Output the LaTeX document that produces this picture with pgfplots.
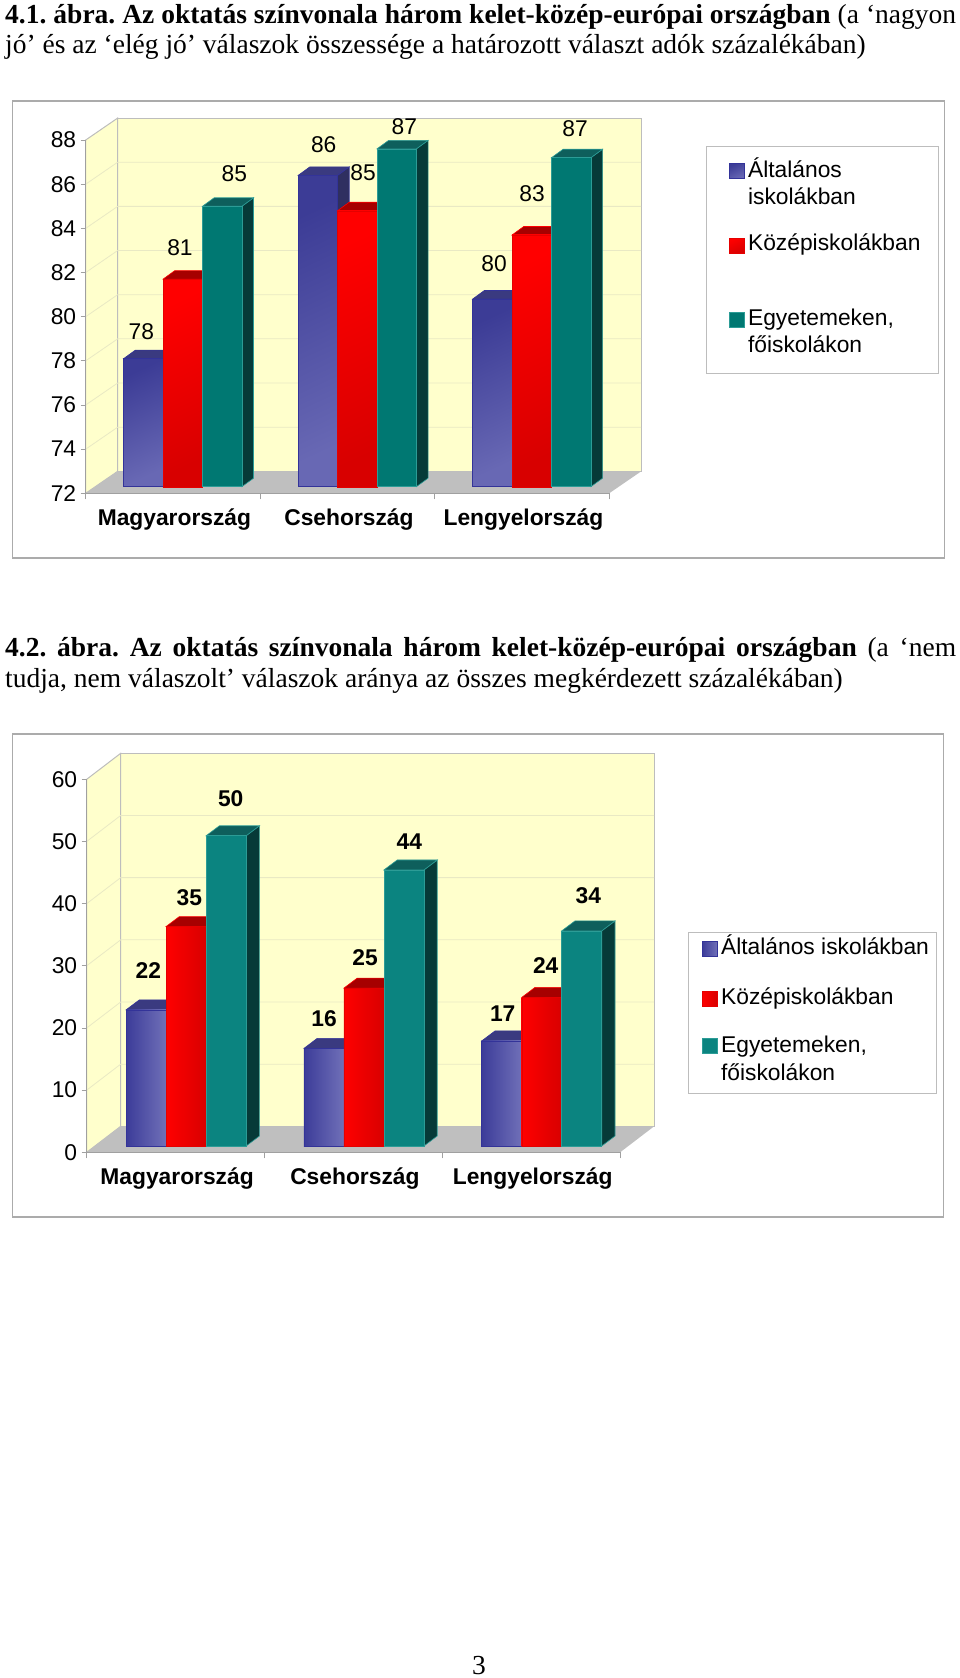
\documentclass[border=0pt]{standalone}
\usepackage{fontspec}
\usepackage{pgfplots}
\usepackage{pgfplotstable}
\pgfplotsset{compat=1.18}
\setmainfont{Liberation Sans}
\newfontfamily\timesf{Liberation Serif}
\frenchspacing

\definecolor{wallc}{HTML}{FFFFCC}
\definecolor{wallgrid}{HTML}{E9E9C4}
\definecolor{wallline}{HTML}{BDBDBD}
\definecolor{floorc}{HTML}{BFBFBF}
\definecolor{axisc}{HTML}{A0A0A0}
\definecolor{framec}{HTML}{ABABAB}
\definecolor{bluetop}{HTML}{3A3A80}
\definecolor{blueside}{HTML}{2F2F60}
\definecolor{blueedge}{HTML}{333399}
\definecolor{redtop}{HTML}{A60000}
\definecolor{redside}{HTML}{900000}
\definecolor{tealtop}{HTML}{0E5F5C}
\definecolor{tealside}{HTML}{063A38}
\definecolor{tealedge}{HTML}{2C9C96}
\definecolor{blueA}{HTML}{3C3C96}
\definecolor{blueB}{HTML}{6868B4}
\definecolor{blueC}{HTML}{3C3C99}
\definecolor{blueD}{HTML}{7070B8}
\definecolor{redA}{HTML}{FF0000}
\definecolor{redB}{HTML}{D80000}
\definecolor{tealA}{HTML}{007872}
\definecolor{tealB}{HTML}{0B8480}

\newcommand{\lf}{\fontsize{22.8}{27.5}\selectfont}
\newcommand{\titlef}{\timesf\fontsize{27.5}{31}\selectfont}

% front face styles
\tikzset{
  fblueone/.style={draw=blueedge,line width=0.6pt,bottom color=blueB,top color=blueA,shading angle=25},
  fredone/.style={draw=red!90!black,line width=0.4pt,bottom color=redB,top color=redA,shading angle=25},
  ftealone/.style={draw=tealedge,line width=0.6pt,fill=tealA},
  fbluetwo/.style={draw=blueedge,line width=0.6pt,left color=blueC,right color=blueD},
  fredtwo/.style={draw=red!90!black,line width=0.4pt,left color=redA,right color=redB},
  ftealtwo/.style={draw=tealedge,line width=0.6pt,fill=tealB},
}

% chart 1: the values are read from bar heights, the labels show them rounded
\pgfplotstableread{
x a b c
0 77.8 81.4 84.7
1 86.1 84.5 87.3
2 80.5 83.4 86.9
}\tabA
\pgfplotstableread{
x a b c
0 21.9 35.3 49.9
1 15.7 25.4 44.4
2 16.9 23.9 34.6
}\tabB

% wall, floor and grid of the 3D look: #1 ymin #2 ymax #3 y steps #4 wall dx #5 wall dy
\newcommand{\walls}[5]{%
  \pgfmathsetmacro\xl{-0.5+#4}\pgfmathsetmacro\xr{2.5+#4}%
  \pgfmathsetmacro\yb{#1+#5}\pgfmathsetmacro\yt{#2+#5}%
  \edef\cmd{\noexpand\addplot[fill=wallc,draw=wallline,line width=1pt,forget plot] coordinates {(\xl,\yb)(\xr,\yb)(\xr,\yt)(\xl,\yt)} --cycle;}\cmd
  \edef\cmd{\noexpand\addplot[fill=wallc,draw=wallline,line width=1pt,forget plot] coordinates {(-0.5,#1)(\xl,\yb)(\xl,\yt)(-0.5,#2)} --cycle;}\cmd
  \pgfplotsforeachungrouped \t in {#3}{%
    \pgfmathsetmacro\tb{\t+#5}%
    \edef\cmd{\noexpand\addplot[draw=wallgrid,line width=0.8pt,forget plot] coordinates {(-0.5,\t)(\xl,\tb)(\xr,\tb)};}\cmd
  }%
  \edef\cmd{\noexpand\addplot[fill=floorc,draw=none,forget plot] coordinates {(-0.5,#1)(2.5,#1)(\xr,\yb)(\xl,\yb)} --cycle;}\cmd
}

% one series, bar by bar: #1 table #2 column #3 bar index #4 top #5 side #6 edge #7 front style
\newcommand{\series}[7]{%
  \pgfplotsforeachungrouped \r in {0,1,2}{%
    \pgfplotstablegetelem{\r}{#2}\of{#1}\let\v\pgfplotsretval
    \pgfmathsetmacro\xa{\r+(#3-0.5)*\bw}\pgfmathsetmacro\xb{\xa+\bw}%
    \pgfmathsetmacro\xc{\xa+\bdx}\pgfmathsetmacro\xd{\xb+\bdx}%
    \pgfmathsetmacro\vt{\v+\bdy}\pgfmathsetmacro\yo{\ybase+\bdy}%
    \pgfmathsetmacro\bs{#3*\bwpt}%
    \edef\cmd{\noexpand\addplot[fill=#5,draw=#6,line width=0.6pt,forget plot] coordinates {(\xb,\ybase)(\xd,\yo)(\xd,\vt)(\xb,\v)} --cycle;}\cmd
    \edef\cmd{\noexpand\addplot[fill=#4,draw=#6,line width=0.6pt,forget plot] coordinates {(\xa,\v)(\xb,\v)(\xd,\vt)(\xc,\vt)} --cycle;}\cmd
    \edef\cmd{\noexpand\addplot[ybar,bar width=\bwpt pt,bar shift=\bs pt,#7,forget plot] coordinates {(\r,\v)};}\cmd
  }%
}

\newcommand{\lentry}[4]{\hspace*{3.6pt}\parbox[t][#2pt][t]{#1pt}{\raggedright\rule{0pt}{#3pt}#4}}
\newcommand{\lab}[3]{\node[inner sep=0pt,font=\lf] at (#1pt,-#2pt) {#3};}
\newcommand{\labb}[3]{\node[inner sep=0pt,font=\lf\bfseries] at (#1pt,-#2pt) {#3};}

\pgfplotsset{
  frameaxis/.style={
    clip=false, axis on top=true, enlargelimits=false,
    axis lines=left, axis line style={draw=axisc,line width=1pt,-},
    xmin=-0.5, xmax=2.5,
    xtick={0,1,2}, xticklabels={Magyarország,Csehország,Lengyelország},
    minor xtick={-0.5,0.5,1.5,2.5},
    major x tick style={draw=none}, minor x tick style={draw=axisc,line width=0.8pt},
    y tick style={draw=axisc,line width=0.8pt},
    tick align=outside, major tick length=5pt, minor tick length=6pt,
    /pgf/number format/assume math mode=true,
    yticklabel style={font=\lf, xshift=-1pt},
    xticklabel style={font=\lf\bfseries, anchor=base, xshift=1.5pt, yshift=-27pt},
  },
  baraxis/.style={
    hide axis, clip=false, enlargelimits=false, xmin=-0.5, xmax=2.5,
    legend cell align=left,
  },
  limg/.style n args={3}{legend image code/.code={
    \path[draw=none] (-#1pt,0) -- (0,0);
    \draw[#2,yshift=#3pt] (0pt,-2.5pt) rectangle (15pt,12.5pt);
  }},
}

\begin{document}
\begin{tikzpicture}[x=1pt,y=1pt]
\path[use as bounding box] (0,0) rectangle (960pt,-1678pt);

% titles
\node[anchor=base west,inner sep=0pt,font=\titlef] at (5pt,-23.5pt)
  {\makebox[951pt][s]{\textbf{4.1. ábra. Az oktatás színvonala három kelet-közép-európai országban} (a ‘nagyon}};
\node[anchor=base west,inner sep=0pt,font=\titlef] at (5pt,-54pt)
  {jó’ és az ‘elég jó’ válaszok összessége a határozott választ adók százalékában)};
\node[anchor=base west,inner sep=0pt,font=\titlef] at (5pt,-656.7pt)
  {\makebox[951pt][s]{\textbf{4.2. ábra. Az oktatás színvonala három kelet-közép-európai országban} (a ‘nem}};
\node[anchor=base west,inner sep=0pt,font=\titlef] at (5pt,-687.7pt)
  {tudja, nem válaszolt’ válaszok aránya az összes megkérdezett százalékában)};
\node[inner sep=0pt,font=\titlef] at (479pt,-1666pt) {3};

% chart frames
\draw[framec,line width=1.2pt] (12.7pt,-101pt) rectangle (944.3pt,-558pt);
\draw[framec,line width=1.2pt] (12.7pt,-734pt) rectangle (943.3pt,-1217pt);

% ---- chart 1
\begin{axis}[frameaxis, at={(85.7pt,-493.3pt)}, anchor=south west,
    x=174.5pt, y=22.08pt, ymin=72, ymax=88, ytick={72,74,...,88}]
  \walls{72}{88}{74,76,78,80,82,84,86}{0.1834}{0.996}
\end{axis}

\begin{axis}[baraxis, at={(95.5pt,-486.7pt)}, anchor=south west,
    x=174.5pt, y=22.08pt, ymin=72, ymax=88,
    legend style={at={(1.1656,0.9643)},anchor=north west,draw=wallline,line width=1pt,
      inner sep=0pt,row sep=0pt,font=\lf,nodes={inner sep=0pt,text depth=}}]
  \def\bw{0.2258}\def\bwpt{39.4}\def\bdx{0.067}\def\bdy{0.385}\def\ybase{72}
  \series{\tabA}{a}{-1}{bluetop}{blueside}{blueedge}{fblueone}
  \series{\tabA}{b}{0}{redtop}{redside}{red}{fredone}
  \series{\tabA}{c}{1}{tealtop}{tealside}{tealedge}{ftealone}
  \addlegendimage{limg={23}{fblueone}{7}}
  \addlegendentry{\lentry{190}{73}{30.7}{Általános\\iskolákban}}
  \addlegendimage{limg={23}{fredone}{6.5}}
  \addlegendentry{\lentry{190}{75}{30.7}{Középiskolákban}}
  \addlegendimage{limg={23}{ftealone}{9}}
  \addlegendentry{\lentry{190}{79}{30.7}{Egyetemeken,\\főiskolákon}}
\end{axis}
\lab{141.3}{331.7}{78}\lab{180}{247.3}{81}\lab{234.3}{173.3}{85}
\lab{323.7}{144.7}{86}\lab{363}{172.7}{85}\lab{404.3}{127}{87}
\lab{494}{263.3}{80}\lab{532}{194}{83}\lab{575}{129}{87}

% ---- chart 2
\begin{axis}[frameaxis, at={(86.7pt,-1152.3pt)}, anchor=south west,
    x=177.8pt, y=6.217pt, ymin=0, ymax=60, ytick={0,10,...,60}]
  \walls{0}{60}{10,20,30,40,50}{0.1912}{4.18}
\end{axis}

\begin{axis}[baraxis, at={(97.2pt,-1146pt)}, anchor=south west,
    x=177.8pt, y=6.217pt, ymin=0, ymax=60,
    legend style={at={(1.1082,0.5729)},anchor=north west,draw=wallline,line width=1pt,
      inner sep=0pt,row sep=0pt,font=\lf,nodes={inner sep=0pt,text depth=}}]
  \def\bw{0.225}\def\bwpt{40}\def\bdx{0.0748}\def\bdy{1.608}\def\ybase{0}
  \series{\tabB}{a}{-1}{bluetop}{blueside}{blueedge}{fbluetwo}
  \series{\tabB}{b}{0}{redtop}{redside}{red}{fredtwo}
  \series{\tabB}{c}{1}{tealtop}{tealside}{tealedge}{ftealtwo}
  \addlegendimage{limg={13.4}{fbluetwo}{3.7}}
  \addlegendentry{\lentry{215}{50}{22}{Általános iskolákban}}
  \addlegendimage{limg={13.4}{fredtwo}{3.2}}
  \addlegendentry{\lentry{215}{48}{22}{Középiskolákban}}
  \addlegendimage{limg={13.4}{ftealtwo}{11.8}}
  \addlegendentry{\lentry{215}{63}{22}{Egyetemeken,\\főiskolákon}}
\end{axis}
\labb{148.3}{970.7}{22}\labb{189.3}{897.7}{35}\labb{230.7}{798.7}{50}
\labb{324}{1018.3}{16}\labb{365}{957.3}{25}\labb{409.3}{841.3}{44}
\labb{502.7}{1013.3}{17}\labb{545.7}{965.3}{24}\labb{588.3}{896}{34}
\end{tikzpicture}
\end{document}
